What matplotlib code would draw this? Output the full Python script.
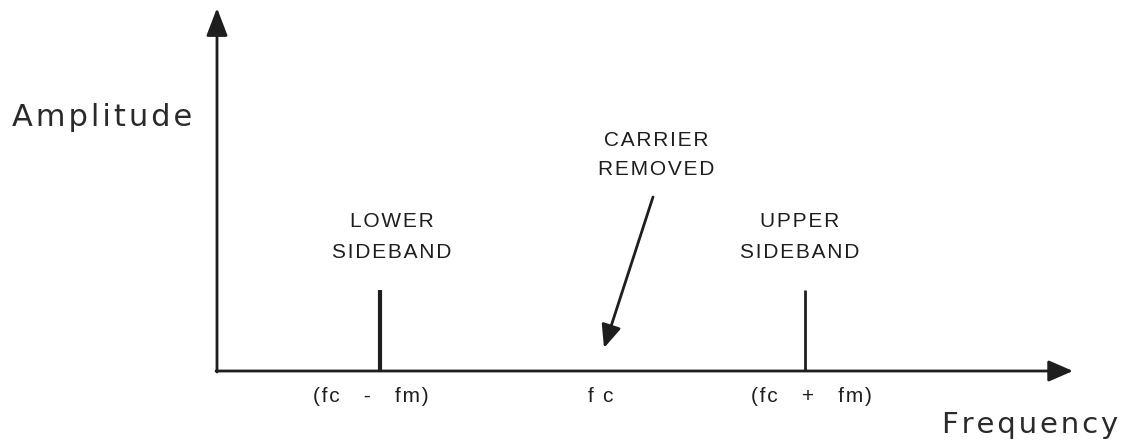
import matplotlib

matplotlib.use("Agg")
import matplotlib.pyplot as plt

# spectrum of a DSB-SC signal, in pixel-like units
origin = (217, 371)
freq_axis_end = 1073
amp_axis_end = 8

sideband_freqs = [380, 805]
sideband_top = [290, 290]
sideband_widths = [3.0, 2.0]
sideband_names = ["LOWER\nSIDEBAND", "UPPER\nSIDEBAND"]
sideband_name_x = [392, 800]

carrier_freq = 602
carrier_arrow_start = (653, 197)
carrier_arrow_tip_y = 348

tick_labels = ["(fc   -   fm)", "f c", "(fc   +   fm)"]
tick_label_x = [371, 601, 811]

ink = "#1e1e1e"
HS = "\u200a"  # hair space, the scan's lettering is spaced out


def spaced(s):
    return "\n".join(HS.join(line) for line in s.split("\n"))


fig = plt.figure(figsize=(11.28, 4.4), dpi=100)
ax = fig.add_axes([0, 0, 1, 1])
ax.set_xlim(0, 1128)
ax.set_ylim(440, 0)
ax.axis("off")

fonts = ["Liberation Sans", "DejaVu Sans"]

# axes with filled arrowheads
ax.annotate("", xy=(freq_axis_end, origin[1]), xytext=(origin[0] - 1, origin[1]),
            arrowprops=dict(arrowstyle="-|>,head_length=1.5,head_width=0.65",
                            color=ink, lw=2.0, shrinkA=0, shrinkB=0))
ax.annotate("", xy=(origin[0], amp_axis_end), xytext=(origin[0], origin[1] + 1),
            arrowprops=dict(arrowstyle="-|>,head_length=1.7,head_width=0.65",
                            color=ink, lw=2.0, shrinkA=0, shrinkB=0))

# sideband lines
for f, top, w in zip(sideband_freqs, sideband_top, sideband_widths):
    ax.plot([f, f], [origin[1], top], color=ink, lw=w, solid_capstyle="butt")

for name, x in zip(sideband_names, sideband_name_x):
    ax.text(x, 237, spaced(name), ha="center", va="center", fontsize=15,
            family=fonts, color=ink, linespacing=1.8)

# carrier removed arrow
ax.annotate("", xy=(carrier_freq + 2, carrier_arrow_tip_y), xytext=carrier_arrow_start,
            arrowprops=dict(arrowstyle="-|>,head_length=1.4,head_width=0.6",
                            color=ink, lw=2.0, shrinkA=0, shrinkB=0))
ax.text(656, 155, spaced("CARRIER\nREMOVED"), ha="center", va="center", fontsize=15,
        family=fonts, color=ink, linespacing=1.7)

for label, x in zip(tick_labels, tick_label_x):
    ax.text(x, 397, spaced(label), ha="center", va="center", fontsize=15,
            family=fonts, color=ink)

ax.text(12, 117, spaced("Amplitude"), ha="left", va="center", fontsize=22,
        family=["DejaVu Sans"], color="#2a2a2a")
ax.text(1118, 433, spaced("Frequency"), ha="right", va="baseline", fontsize=21,
        family=["DejaVu Sans"], color="#2a2a2a")

fig.savefig("out.png", dpi=100, facecolor="white")
plt.close(fig)
